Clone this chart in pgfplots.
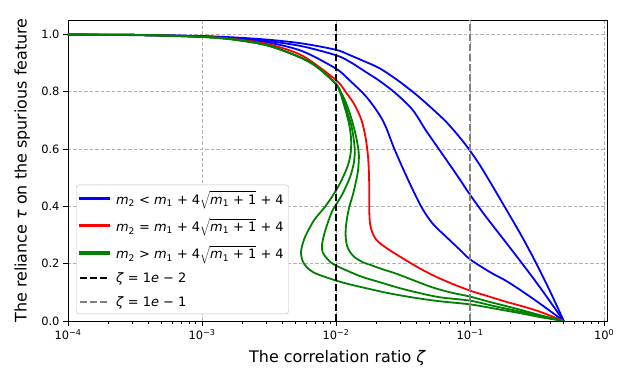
\documentclass[border=0pt]{standalone}
\usepackage{fontspec}
\setmainfont{DejaVu Sans}
\usepackage{pgfplots}
\pgfplotsset{compat=1.18}
\definecolor{mplgreen}{rgb}{0,0.5,0}
\definecolor{mplblue}{rgb}{0,0,1}
\definecolor{mplred}{rgb}{1,0,0}
\definecolor{gridgray}{HTML}{B0B0B0}
\newcommand{\mv}[1]{\textit{m}\textsubscript{#1}}
\newcommand{\rhs}{\mv{1} + 4$\sqrt{\mbox{\mv{1} + 1}}$ + 4}
\begin{document}
\begin{tikzpicture}
\begin{axis}[
  name=main,
  scale only axis, width=539bp, height=301bp,
  xmode=log, xmin=1e-4, xmax=1.05, ymin=0, ymax=1.05,
  xtick={1e-4,1e-3,1e-2,1e-1,1},
  xticklabels={10\textsuperscript{−4},10\textsuperscript{−3},10\textsuperscript{−2},10\textsuperscript{−1},10\textsuperscript{0}},
  minor xtick={2e-4,3e-4,4e-4,5e-4,6e-4,7e-4,8e-4,9e-4,2e-3,3e-3,4e-3,5e-3,6e-3,7e-3,8e-3,9e-3,2e-2,3e-2,4e-2,5e-2,6e-2,7e-2,8e-2,9e-2,0.2,0.3,0.4,0.5,0.6,0.7,0.8,0.9},
  ytick={0,0.2,0.4,0.6,0.8,1},
  yticklabel style={/pgf/number format/fixed,/pgf/number format/fixed zerofill,/pgf/number format/precision=1},
  /pgf/number format/assume math mode=true,
  tick label style={font=\fontsize{11.5}{13}\selectfont},
  xtick pos=bottom, ytick pos=left, tick align=outside,
  major tick length=5bp, minor tick length=3bp,
  every tick/.style={black, line width=0.8bp},
  axis line style={line width=0.9bp},
  grid=major,
  major grid style={gridgray, line width=0.8bp, dash pattern=on 3.5bp off 2bp},
  xlabel={The correlation ratio \textit{ζ}},
  ylabel={The reliance \textit{τ} on the spurious feature},
  label style={font=\fontsize{16}{19}\selectfont},
  xlabel style={at={(axis description cs:0.5,-0.123)}, anchor=center},
  ylabel style={at={(axis description cs:-0.085,0.5)}, anchor=center},
  legend cell align=left,
  legend style={at={(axis description cs:0.015,0.023)}, anchor=south west,
    draw=gridgray!80, fill=white,
    rounded corners=3bp, font=\fontsize{13}{15.5}\selectfont,
    inner xsep=3bp, inner ysep=4bp, row sep=8.5bp},
  every axis plot/.append style={line width=1.8bp},
]
\addlegendimage{legend image code/.code={\fill[mplblue, rounded corners=0pt] (0bp,-0.75bp) rectangle (29bp,0.75bp); \path (33bp,0bp);}}
\addlegendentry{\mv{2} < \rhs}
\addlegendimage{legend image code/.code={\fill[mplred, rounded corners=0pt] (0bp,-0.75bp) rectangle (29bp,0.75bp); \path (33bp,0bp);}}
\addlegendentry{\mv{2} = \rhs}
\addlegendimage{legend image code/.code={\fill[mplgreen, rounded corners=0pt] (0bp,-0.75bp) rectangle (29bp,0.75bp); \path (33bp,0bp);}}
\addlegendentry{\mv{2} > \rhs}
\addlegendimage{legend image code/.code={\draw[black, line width=1.8bp, rounded corners=0pt, dash pattern=on 7bp off 3bp] (0bp,0bp) -- (29bp,0bp); \path (33bp,0bp);}}
\addlegendentry{\textit{ζ} = 1\textit{e} − 2}
\addlegendimage{legend image code/.code={\draw[gray, line width=1.8bp, rounded corners=0pt, dash pattern=on 7bp off 3bp] (0bp,0bp) -- (29bp,0bp); \path (33bp,0bp);}}
\addlegendentry{\textit{ζ} = 1\textit{e} − 1}
% blue curves
\addplot[mplblue, smooth, tension=0.5, forget plot] coordinates {
(1e-4,0.999) (3.162e-4,0.998) (1e-3,0.994) (1.778e-3,0.989) (3.162e-3,0.981) (5.623e-3,0.968)
(1e-2,0.946) (1.259e-2,0.928) (1.585e-2,0.908) (2.104e-2,0.882) (2.818e-2,0.843) (3.837e-2,0.795)
(5.012e-2,0.748) (6.622e-2,0.695) (8.318e-2,0.642) (9.772e-2,0.6) (0.1148,0.553) (0.1349,0.5)
(0.1803,0.4) (0.2399,0.3) (0.302,0.213) (0.389,0.11) (0.5,0)};
\addplot[mplblue, smooth, tension=0.5, forget plot] coordinates {
(1e-4,0.999) (3.162e-4,0.997) (1e-3,0.992) (1.778e-3,0.986) (3.162e-3,0.976) (5.623e-3,0.958)
(1e-2,0.927) (1.259e-2,0.905) (1.675e-2,0.868) (2.104e-2,0.838) (2.805e-2,0.793) (3.733e-2,0.736)
(4.677e-2,0.665) (5.902e-2,0.597) (7.943e-2,0.51) (0.1,0.44) (0.1259,0.375) (0.1563,0.318)
(0.2333,0.213) (0.3289,0.12) (0.5,0)};
\addplot[mplblue, smooth, tension=0.5, forget plot] coordinates {
(1e-4,0.999) (3.162e-4,0.998) (1e-3,0.993) (1.778e-3,0.986) (3.162e-3,0.971) (5.623e-3,0.941)
(1e-2,0.88) (1.259e-2,0.84) (1.675e-2,0.783) (2.104e-2,0.72) (2.36e-2,0.675) (2.723e-2,0.6)
(3.388e-2,0.5) (4.305e-2,0.4) (5.248e-2,0.34) (6.622e-2,0.294) (8.318e-2,0.25) (0.1,0.215)
(0.1413,0.17) (0.1858,0.14) (0.2512,0.1) (0.3289,0.062) (0.5,0)};
% red curve
\addplot[mplred, smooth, tension=0.5, forget plot] coordinates {
(1e-4,0.999) (3.162e-4,0.998) (1e-3,0.992) (1.778e-3,0.983) (3.162e-3,0.965) (5.623e-3,0.925)
(1e-2,0.84) (1.175e-2,0.80) (1.371e-2,0.755) (1.549e-2,0.70) (1.66e-2,0.64) (1.726e-2,0.58)
(1.758e-2,0.52) (1.77e-2,0.45) (1.77e-2,0.38) (1.799e-2,0.335) (1.905e-2,0.298) (2.089e-2,0.274)
(2.512e-2,0.247) (2.965e-2,0.226) (3.981e-2,0.19) (5.26e-2,0.16) (7.079e-2,0.133) (0.1,0.106)
(0.1413,0.084) (0.1858,0.067) (0.2512,0.05) (0.3289,0.033) (0.5,0)};
% green curves
\addplot[mplgreen, smooth, tension=0.5, forget plot] coordinates {
(1e-4,0.999) (3.162e-4,0.998) (1e-3,0.991) (1.778e-3,0.981) (3.162e-3,0.96) (5.623e-3,0.916)
(7.499e-3,0.88) (1e-2,0.826)
(1.076e-2,0.795) (1.135e-2,0.76) (1.202e-2,0.72) (1.259e-2,0.68) (1.294e-2,0.635) (1.288e-2,0.59)
(1.23e-2,0.545) (1.096e-2,0.49) (9.705e-3,0.446) (8.318e-3,0.40) (6.887e-3,0.353) (5.957e-3,0.30)
(5.598e-3,0.265) (5.47e-3,0.238) (5.623e-3,0.21) (6.026e-3,0.188) (6.761e-3,0.17) (7.586e-3,0.16)
(1e-2,0.141) (1.259e-2,0.128) (1.585e-2,0.117) (2.239e-2,0.101) (2.965e-2,0.09) (3.981e-2,0.08)
(5.902e-2,0.069) (0.1,0.058) (0.1413,0.046) (0.1858,0.036) (0.2512,0.025) (0.3289,0.014) (0.5,0)};
\addplot[mplgreen, smooth, tension=0.5, forget plot] coordinates {
(1e-4,0.999) (3.162e-4,0.998) (1e-3,0.991) (1.778e-3,0.981) (3.162e-3,0.96) (5.623e-3,0.916)
(7.499e-3,0.88) (1e-2,0.826)
(1.084e-2,0.795) (1.161e-2,0.76) (1.23e-2,0.72) (1.303e-2,0.68) (1.358e-2,0.63) (1.38e-2,0.59)
(1.355e-2,0.55) (1.288e-2,0.51) (1.202e-2,0.475) (1.089e-2,0.434) (9.441e-3,0.387) (8.65e-3,0.341)
(8.128e-3,0.30) (7.852e-3,0.265) (7.943e-3,0.24) (8.414e-3,0.222) (9.12e-3,0.205) (1e-2,0.193)
(1.259e-2,0.172) (1.585e-2,0.153) (2.239e-2,0.132) (2.965e-2,0.115) (3.981e-2,0.1) (5.902e-2,0.083)
(0.1,0.071) (0.1413,0.055) (0.1858,0.043) (0.2512,0.03) (0.3289,0.017) (0.5,0)};
\addplot[mplgreen, smooth, tension=0.5, forget plot] coordinates {
(1e-4,0.999) (3.162e-4,0.998) (1e-3,0.991) (1.778e-3,0.981) (3.162e-3,0.96) (5.623e-3,0.916)
(7.499e-3,0.88) (1e-2,0.826)
(1.096e-2,0.795) (1.189e-2,0.76) (1.274e-2,0.72) (1.349e-2,0.68) (1.429e-2,0.63) (1.479e-2,0.58)
(1.462e-2,0.53) (1.413e-2,0.49) (1.334e-2,0.44) (1.259e-2,0.40) (1.208e-2,0.36) (1.18e-2,0.32)
(1.18e-2,0.29) (1.208e-2,0.262) (1.274e-2,0.24) (1.38e-2,0.222) (1.585e-2,0.205) (1.82e-2,0.195)
(2.239e-2,0.18) (2.818e-2,0.165) (3.981e-2,0.138) (5.26e-2,0.117) (7.079e-2,0.1) (0.1,0.085)
(0.1413,0.066) (0.1858,0.052) (0.2512,0.036) (0.3289,0.021) (0.5,0)};
% vertical reference lines
\addplot[black, line width=2bp, dash pattern=on 7bp off 3bp, forget plot] coordinates {(0.01,0) (0.01,1.05)};
\addplot[gray, line width=2bp, dash pattern=on 7bp off 3bp, forget plot] coordinates {(0.1,0) (0.1,1.05)};
\end{axis}
\pgfresetboundingbox
\useasboundingbox ([shift={(-68bp,-54bp)}]main.south west) rectangle ([shift={(27bp,20bp)}]main.north east);
\end{tikzpicture}
\end{document}
